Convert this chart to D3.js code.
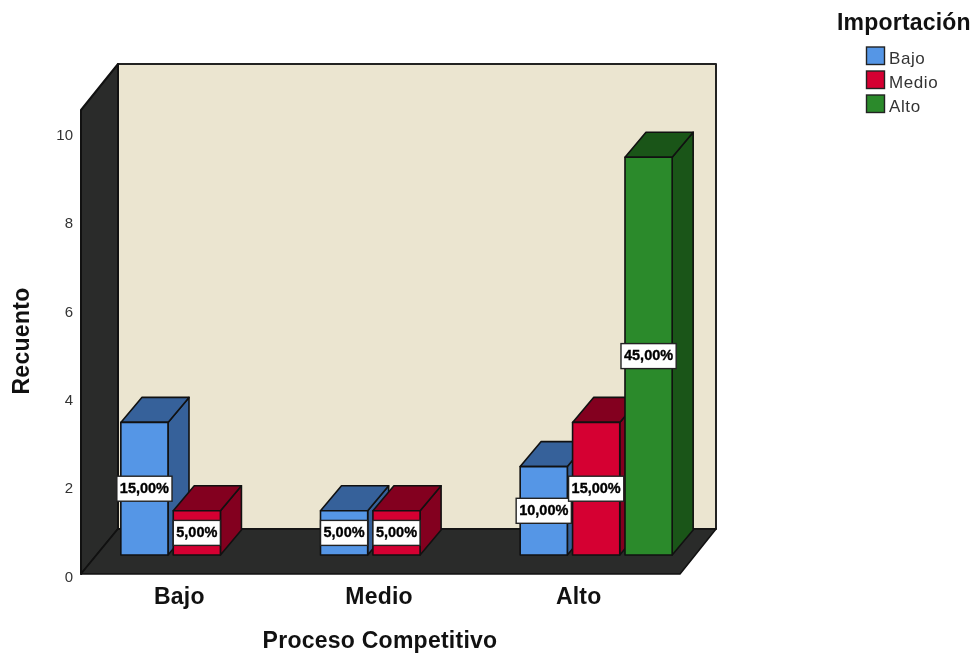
<!DOCTYPE html>
<html><head><meta charset="utf-8"><style>html,body{margin:0;background:#fff}svg{display:block;filter:blur(0.35px)}text{font-family:"Liberation Sans",Arial,sans-serif}</style>
<script src="https://cdn.jsdelivr.net/npm/d3@7"></script></head><body><script>
const categories = ["Bajo","Medio","Alto"];
const seriesNames = ["Bajo","Medio","Alto"];
const valuesBajo = [3,1,2];
const valuesMedio = [1,1,3];
const valuesAlto = [0,0,9];
const pctBajo = ["15,00%","5,00%","10,00%"];
const pctMedio = ["5,00%","5,00%","15,00%"];
const pctAlto = ["","","45,00%"];
const frontColors = ["#5596E6","#D50032","#2B8A2B"];
const topColors = ["#36619A","#83001F","#1A5518"];
const sideColors = ["#36619A","#83001F","#1A5518"];
const yTicks = [0,2,4,6,8,10];

const svg = d3.select("body").append("svg").attr("width",974).attr("height",653);
const x = d3.scaleBand().domain(categories).range([96.5,695.5]);
const xs = d3.scaleBand().domain(seriesNames).range([-75.5,76.5]).paddingInner(0.1);
const y = d3.scaleLinear().domain([0,10]).range([574,132]);
const floorFront=574, floorBack=529, wallTop=64, wallFront=110;
const L=81, LB=118, RB=716, RF=680, barBase=555, dxBar=21, dyBar=-25, shift=barBase-floorFront;
const stroke="#111";
const poly=(pts,fill,sw=1.6,st=stroke)=>svg.append("path").attr("d",d3.line()(pts)+"Z").attr("fill",fill).attr("stroke",st).attr("stroke-width",sw).attr("stroke-linejoin","round");
poly([[LB,wallTop],[RB,wallTop],[RB,floorBack],[LB,floorBack]],"#EBE5D0",2,"#222");
poly([[L,wallFront],[LB,wallTop],[LB,floorBack],[L,floorFront]],"#2A2B2A",2,"#111");
poly([[L,floorFront],[LB,floorBack],[RB,floorBack],[RF,floorFront]],"#2A2B2A",1.5,"#111");
const rows=seriesNames.map((s,i)=>({s,i,vals:[valuesBajo,valuesMedio,valuesAlto][i],pcts:[pctBajo,pctMedio,pctAlto][i]}));
const flat=[];
categories.forEach((c,ci)=>rows.forEach(r=>{ if(r.vals[ci]>0) flat.push({c,s:r.s,i:r.i,v:r.vals[ci],p:r.pcts[ci]}); }));
flat.forEach(d=>{
  const x0=x(d.c)+x.bandwidth()/2+xs(d.s), x1=x0+xs.bandwidth();
  const yt=y(d.v)+shift, yb=y(0)+shift;
  poly([[x1,yt],[x1+dxBar,yt+dyBar],[x1+dxBar,yb+dyBar],[x1,yb]],sideColors[d.i]);
  poly([[x0,yt],[x0+dxBar,yt+dyBar],[x1+dxBar,yt+dyBar],[x1,yt]],topColors[d.i]);
  poly([[x0,yt],[x1,yt],[x1,yb],[x0,yb]],frontColors[d.i]);
});
flat.forEach(d=>{
  const cx=x(d.c)+x.bandwidth()/2+xs(d.s)+xs.bandwidth()/2;
  const cy=y(d.v/2)+shift;
  const g=svg.append("g");
  const t=g.append("text").attr("x",cx).attr("y",cy+0.5).attr("text-anchor","middle").attr("dominant-baseline","middle").attr("font-size",14.5).attr("font-weight","bold").attr("fill","#000").attr("stroke","#000").attr("stroke-width",0.35).text(d.p);
  const w=t.node().getComputedTextLength()+6;
  g.insert("rect","text").attr("x",cx-w/2).attr("y",cy-12.5).attr("width",w).attr("height",25).attr("fill","#fff").attr("stroke","#222").attr("stroke-width",1.4);
});
const yAxis=svg.append("g").attr("transform","translate(75,2.5)").call(d3.axisLeft(y).tickValues(yTicks).tickSize(0).tickPadding(2));
yAxis.select(".domain").remove();
yAxis.selectAll("text").attr("font-size",15).attr("fill","#333").style("font-family",'"Liberation Sans",Arial,sans-serif');
const xAxis=svg.append("g").attr("transform","translate(-17,582)").call(d3.axisBottom(x).tickSize(0).tickPadding(6));
xAxis.select(".domain").remove();
xAxis.selectAll("text").attr("font-size",23).attr("font-weight","bold").attr("fill","#111").attr("letter-spacing",0.2).style("font-family",'"Liberation Sans",Arial,sans-serif');
svg.append("text").attr("transform","translate(29,341) rotate(-90)").attr("text-anchor","middle").attr("font-size",23).attr("font-weight","bold").attr("fill","#111").attr("letter-spacing",0.3).text("Recuento");
svg.append("text").attr("x",380).attr("y",648).attr("text-anchor","middle").attr("font-size",23).attr("font-weight","bold").attr("fill","#111").attr("letter-spacing",0.25).text("Proceso Competitivo");
svg.append("text").attr("x",837).attr("y",30).attr("font-size",23).attr("font-weight","bold").attr("fill","#111").attr("letter-spacing",0.2).text("Importación");
const leg=d3.scaleBand().domain(seriesNames).range([47,119]);
seriesNames.forEach((s,i)=>{
  svg.append("rect").attr("x",866.5).attr("y",leg(s)).attr("width",18).attr("height",17.5).attr("fill",frontColors[i]).attr("stroke","#222").attr("stroke-width",1.4);
  svg.append("text").attr("x",889).attr("y",leg(s)+17).attr("font-size",17).attr("fill","#333").attr("letter-spacing",0.6).text(s);
});
</script></body></html>
